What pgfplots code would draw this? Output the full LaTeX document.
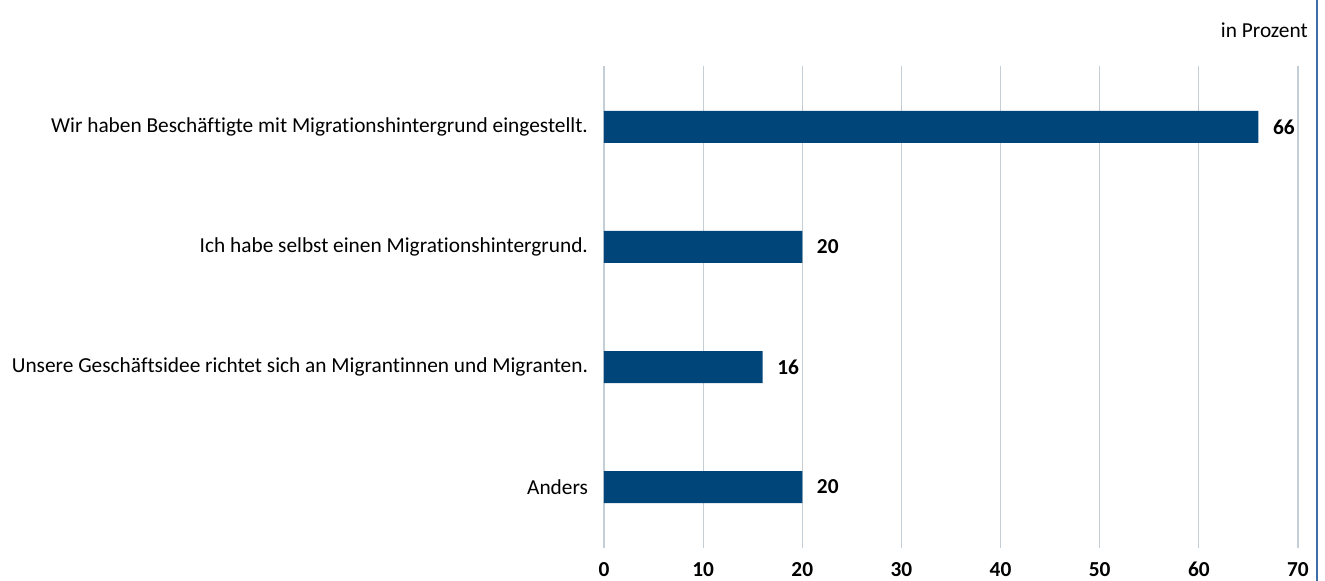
\documentclass[border=0pt]{standalone}
\usepackage{pgfplots}
\pgfplotsset{compat=1.18}
\usepackage{fontspec}
\setmainfont[Ligatures=NoCommon]{Carlito}
\definecolor{barblue}{HTML}{00457A}
\definecolor{gridc}{HTML}{C3CED6}
\definecolor{edgeblue}{HTML}{3D6EA8}
\newcommand{\lf}{\fontsize{16}{19}\selectfont}
\begin{document}
\begin{tikzpicture}
\begin{axis}[
  at={(0,0)}, anchor=south west,
  scale only axis,
  width=520.5pt, height=361.5pt,
  xbar, bar width=24pt,
  xmin=0, xmax=70,
  ymin=-0.508, ymax=3.508,
  y dir=reverse,
  axis line style={draw=none},
  xtick={0,10,...,70},
  ytick={0,1,2,3},
  yticklabels={Wir haben Beschäftigte mit Migrationshintergrund eingestellt.,Ich habe selbst einen Migrationshintergrund.,Unsere Geschäftsidee richtet sich an Migrantinnen und Migranten.,Anders},
  major tick length=0pt,
  xmajorgrids,
  grid style={gridc, line width=0.9pt},
  /pgf/number format/assume math mode=true,
  xticklabel style={font=\lf\bfseries, yshift=-7pt},
  yticklabel style={font=\lf, xshift=-8.5pt},
  nodes near coords,
  every node near coord/.append style={font=\lf\bfseries, black, xshift=7.5pt},
  clip=false,
]
\addplot[fill=barblue, draw=none] coordinates {(66,0) (20,1) (16,2) (20,3)};
\node[anchor=east, font=\lf, inner sep=0pt] at ([xshift=7.5pt, yshift=27pt]rel axis cs:1,1) {in Prozent};
\end{axis}
\draw[edgeblue, line width=1.5pt] (534.75pt,-24.75pt) -- (534.75pt,411pt);
\pgfresetboundingbox
\path[use as bounding box] (-453pt,-24.75pt) rectangle (540.75pt,411pt);
\end{tikzpicture}
\end{document}
